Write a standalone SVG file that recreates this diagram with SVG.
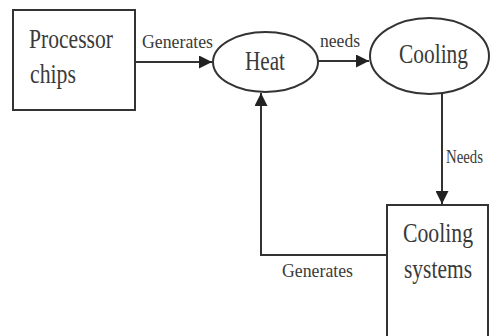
<svg xmlns="http://www.w3.org/2000/svg" width="490" height="336" viewBox="0 0 490 336">
  <style>
    .shape { fill: #fff; stroke: #333; stroke-width: 2; }
    .edge { fill: none; stroke: #333; stroke-width: 2; }
    .node-text { font-family: "Liberation Serif", "Times New Roman", serif; font-size: 27px; fill: #3a3a3a; }
    .edge-text { font-family: "Liberation Serif", "Times New Roman", serif; font-size: 19px; fill: #3a3a3a; }
  </style>
  <defs>
    <marker id="arrow" viewBox="0 0 10 10" refX="10" refY="5" markerWidth="6.5" markerHeight="6.5" orient="auto" markerUnits="strokeWidth">
      <path d="M0,0 L10,5 L0,10 Z" fill="#222"/>
    </marker>
  </defs>
  <rect width="490" height="336" fill="#fff"/>

  <g id="connectors">
    <line class="edge" x1="135" y1="62" x2="212" y2="62" marker-end="url(#arrow)"/>
    <line class="edge" x1="318" y1="61" x2="369" y2="61" marker-end="url(#arrow)"/>
    <line class="edge" x1="442" y1="93" x2="442" y2="204" marker-end="url(#arrow)"/>
    <polyline class="edge" points="387,255 261,255 261,93" marker-end="url(#arrow)"/>
    <text class="edge-text" x="142" y="48" textLength="71" lengthAdjust="spacingAndGlyphs">Generates</text>
    <text class="edge-text" x="320" y="47" textLength="40" lengthAdjust="spacingAndGlyphs">needs</text>
    <text class="edge-text" x="446" y="163" font-size="15" textLength="37" lengthAdjust="spacingAndGlyphs">Needs</text>
    <text class="edge-text" x="282" y="277" textLength="71" lengthAdjust="spacingAndGlyphs">Generates</text>
  </g>

  <g id="processor-chips">
    <rect class="shape" x="13" y="10" width="122" height="100"/>
    <text class="node-text" x="29" y="48" textLength="84" lengthAdjust="spacingAndGlyphs">Processor</text>
    <text class="node-text" x="30" y="83" textLength="46" lengthAdjust="spacingAndGlyphs">chips</text>
  </g>

  <g id="heat">
    <ellipse class="shape" cx="265.5" cy="62" rx="52.5" ry="30"/>
    <text class="node-text" x="245" y="70" textLength="40" lengthAdjust="spacingAndGlyphs">Heat</text>
  </g>

  <g id="cooling">
    <ellipse class="shape" cx="429.5" cy="56" rx="59.5" ry="38"/>
    <text class="node-text" x="399" y="63" textLength="69" lengthAdjust="spacingAndGlyphs">Cooling</text>
  </g>

  <g id="cooling-systems">
    <rect class="shape" x="387" y="205" width="101" height="140"/>
    <text class="node-text" x="403" y="242" textLength="70" lengthAdjust="spacingAndGlyphs">Cooling</text>
    <text class="node-text" x="404" y="278" textLength="68" lengthAdjust="spacingAndGlyphs">systems</text>
  </g>
</svg>
